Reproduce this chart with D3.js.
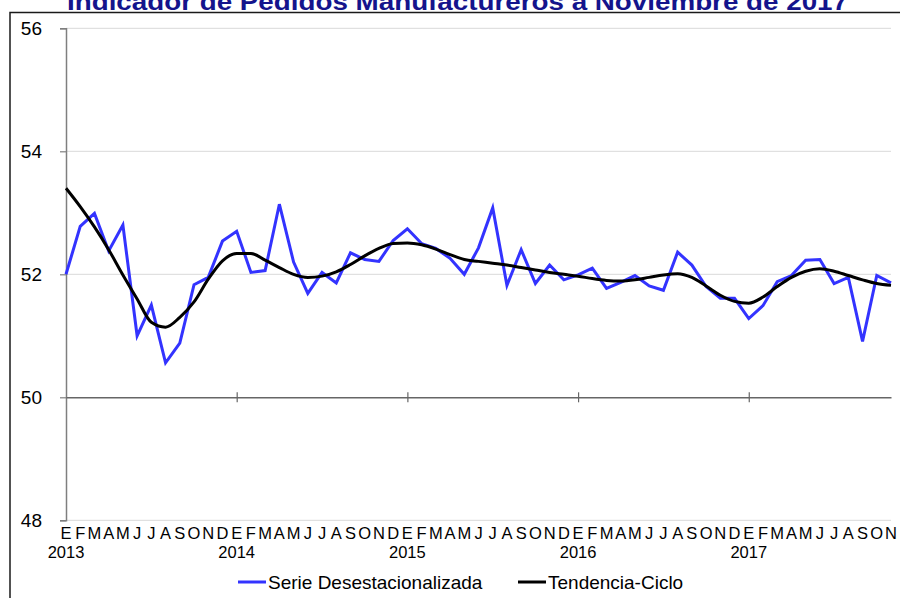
<!DOCTYPE html>
<html>
<head>
<meta charset="utf-8">
<script src="https://cdn.jsdelivr.net/npm/d3@7"></script>
<style>
    body { margin: 0; background: #fff; }
    svg { display: block; font-family: Arial, "Liberation Sans", sans-serif; }
</style>
</head>
<body>
<svg id="chart" width="900" height="598"></svg>
<script>

var monthLabels = ["E","F","M","A","M","J","J","A","S","O","N","D"];
var yearLabels = ["2013", "2014", "2015", "2016", "2017"];
var yTicks = [48, 50, 52, 54, 56];

//Serie desestacionalizada, enero 2013 - noviembre 2017
var serieDesest = [52.00, 52.78, 52.99, 52.38, 52.80, 51.00, 51.50, 50.56, 50.88, 51.83, 51.95, 52.54,
                   52.70, 52.03, 52.06, 53.14, 52.20, 51.69, 52.03, 51.86, 52.35, 52.24, 52.21, 52.55,
                   52.74, 52.50, 52.42, 52.26, 52.00, 52.43, 53.08, 51.82, 52.40, 51.85, 52.15, 51.91,
                   51.99, 52.10, 51.77, 51.87, 51.98, 51.81, 51.74, 52.36, 52.15, 51.80, 51.61, 51.61,
                   51.28, 51.49, 51.88, 51.98, 52.23, 52.24, 51.85, 51.95, 50.91, 51.98, 51.86];

//Tendencia-ciclo, mismo periodo
var tendencia = [53.40, 53.10, 52.77, 52.40, 51.99, 51.60, 51.22, 51.14, 51.30, 51.55, 51.92, 52.22,
                 52.34, 52.34, 52.23, 52.11, 52.00, 51.95, 51.97, 52.04, 52.16, 52.30, 52.42, 52.50,
                 52.51, 52.48, 52.41, 52.32, 52.24, 52.21, 52.18, 52.15, 52.11, 52.07, 52.03, 52.00,
                 51.97, 51.93, 51.90, 51.89, 51.91, 51.95, 51.99, 52.01, 51.95, 51.81, 51.66, 51.56,
                 51.53, 51.63, 51.80, 51.95, 52.05, 52.09, 52.05, 51.98, 51.91, 51.85, 51.82];

var svg = d3.select("#chart");

var x = d3.scaleLinear().domain([0, serieDesest.length - 1]).range([66, 891]);
var y = d3.scaleLinear().domain([48, 56]).range([520.3, 28.3]);

//Outer frame and (cut off) title
svg.append("rect")
    .attr("x", 10).attr("y", 12.5)
    .attr("width", 900).attr("height", 600)
    .attr("fill", "none")
    .attr("stroke", "#1a1a1a")
    .attr("stroke-width", 1.5);

svg.append("text")
    .attr("x", 67).attr("y", 9.5)
    .attr("textLength", 781)
    .attr("lengthAdjust", "spacingAndGlyphs")
    .attr("font-size", 24)
    .attr("font-weight", "bold")
    .attr("fill", "#14148c")
    .text("Indicador de Pedidos Manufactureros a Noviembre de 2017");

//Gridlines (50 is drawn by the x axis)
svg.append("g")
    .selectAll("line")
    .data(yTicks.filter(function(d) { return d !== 50; }))
    .enter().append("line")
    .attr("x1", x(0)).attr("x2", x(serieDesest.length - 1))
    .attr("y1", function(d) { return y(d); })
    .attr("y2", function(d) { return y(d); })
    .attr("stroke", "#d9d9d9")
    .attr("stroke-width", 1);

//Y axis
var yAxis = svg.append("g")
    .attr("transform", "translate(66,0)")
    .call(d3.axisLeft(y).tickValues(yTicks).tickSize(6).tickPadding(18).tickFormat(d3.format("d")));
yAxis.select(".domain").attr("stroke", "#7f7f7f").attr("stroke-width", 1.5);
yAxis.selectAll(".tick line").attr("stroke", "#7f7f7f").attr("stroke-width", 1.2);
yAxis.selectAll(".tick text")
    .attr("font-size", 19)
    .attr("font-family", "Arial, 'Liberation Sans', sans-serif")
    .attr("fill", "#000");

//X axis crossing at 50, ticks at year boundaries
var xAxis = svg.append("g")
    .attr("transform", "translate(0," + y(50) + ")")
    .call(d3.axisBottom(x).tickValues([12, 24, 36, 48]).tickSize(5).tickSizeOuter(0).tickFormat(""));
xAxis.select(".domain").attr("stroke", "#666").attr("stroke-width", 1.5);
xAxis.selectAll(".tick line").attr("y1", -5).attr("stroke", "#666").attr("stroke-width", 1.2);

//Month and year labels
svg.append("g")
    .selectAll("text")
    .data(serieDesest)
    .enter().append("text")
    .attr("x", function(d, i) { return x(i); })
    .attr("y", 538.5)
    .attr("text-anchor", "middle")
    .attr("font-size", 16.5)
    .attr("fill", "#000")
    .text(function(d, i) { return monthLabels[i % 12]; });

svg.append("g")
    .selectAll("text")
    .data(yearLabels)
    .enter().append("text")
    .attr("x", function(d, i) { return x(i * 12); })
    .attr("y", 557.5)
    .attr("text-anchor", "middle")
    .attr("font-size", 16.5)
    .attr("fill", "#000")
    .text(function(d) { return d; });

//Series lines
var line = d3.line()
    .x(function(d, i) { return x(i); })
    .y(function(d) { return y(d); });

svg.append("path")
    .datum(serieDesest)
    .attr("d", line)
    .attr("fill", "none")
    .attr("stroke", "#3333ff")
    .attr("stroke-width", 3)
    .attr("stroke-linejoin", "miter");

svg.append("path")
    .datum(tendencia)
    .attr("d", line.curve(d3.curveMonotoneX))
    .attr("fill", "none")
    .attr("stroke", "#000")
    .attr("stroke-width", 3);

//Legend
var legendItems = [{"name": "Serie Desestacionalizada", "color": "#3333ff", "x": 238},
                   {"name": "Tendencia-Ciclo", "color": "#000", "x": 518}];

var legend = svg.append("g")
    .selectAll("g")
    .data(legendItems)
    .enter().append("g")
    .attr("transform", function(d) { return "translate(" + d.x + ",582)"; });

legend.append("line")
    .attr("x1", 0).attr("x2", 28)
    .attr("stroke", function(d) { return d.color; })
    .attr("stroke-width", 3);

legend.append("text")
    .attr("x", 30).attr("y", 7)
    .attr("font-size", 19)
    .attr("fill", "#000")
    .text(function(d) { return d.name; });

</script>
</body>
</html>
